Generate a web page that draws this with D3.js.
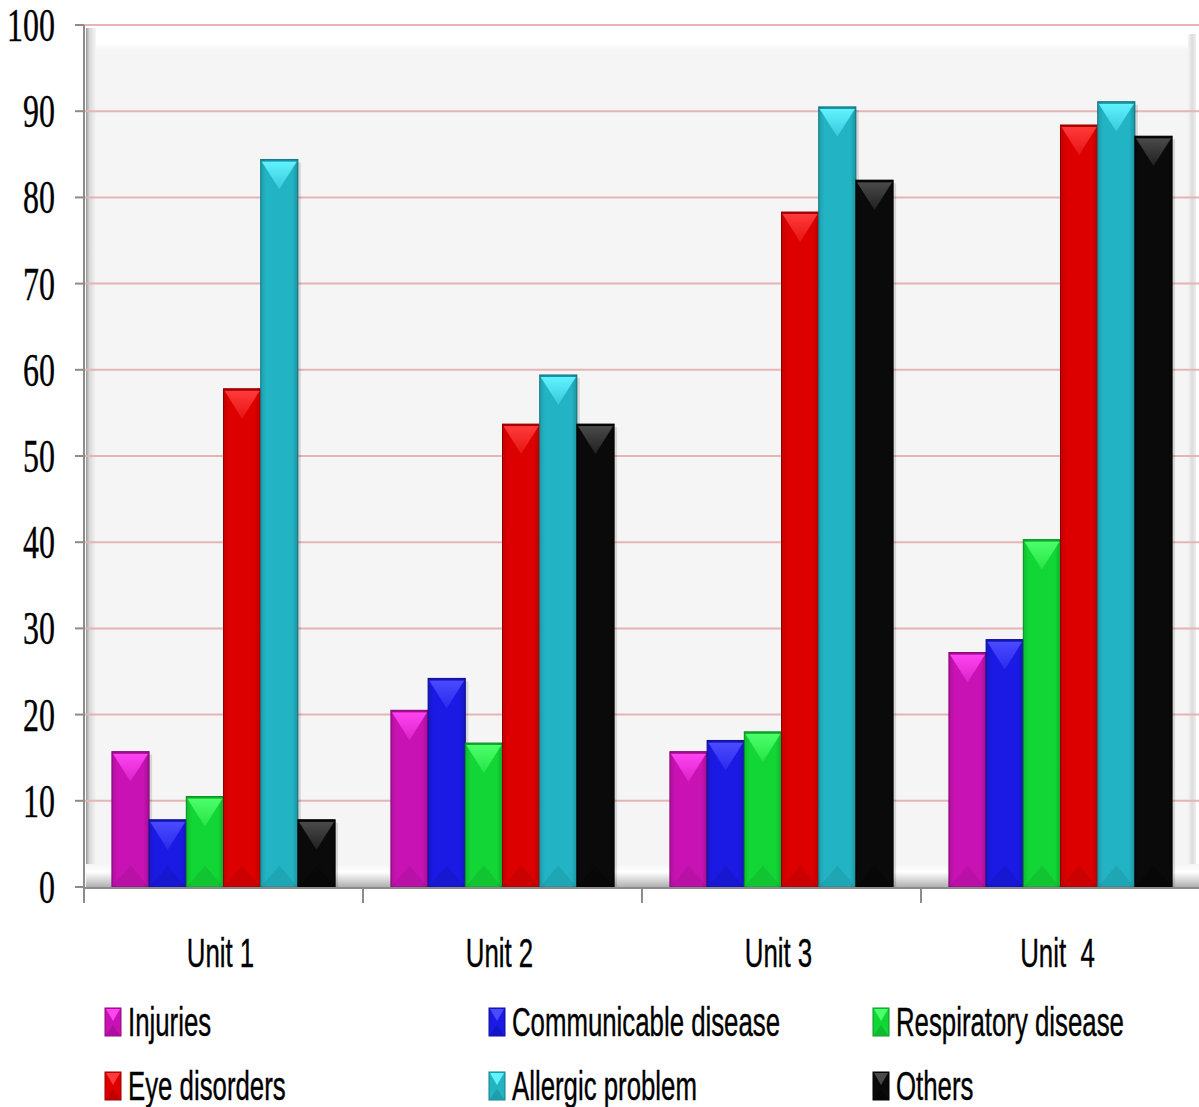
<!DOCTYPE html>
<html><head><meta charset="utf-8">
<script src="https://cdn.jsdelivr.net/npm/d3@7"></script>
<style>html,body{margin:0;padding:0;background:#fff;}svg{display:block;}</style>
</head><body>
<svg id="c" width="1199" height="1107"></svg>
<script>
const units = ["Unit 1", "Unit 2", "Unit 3", "Unit  4"];
const seriesNames = ["Injuries", "Communicable disease", "Respiratory disease", "Eye disorders", "Allergic problem", "Others"];
const injuries     = [15.7, 20.5, 15.7, 27.2];
const communicable = [7.8, 24.2, 17.0, 28.7];
const respiratory  = [10.5, 16.7, 18.0, 40.3];
const eyeDisorders = [57.8, 53.7, 78.3, 88.4];
const allergic     = [84.4, 59.4, 90.5, 91.1];
const others       = [7.8, 53.7, 82.0, 87.1];
const yTicks = [0, 10, 20, 30, 40, 50, 60, 70, 80, 90, 100];
const seriesValues = [injuries, communicable, respiratory, eyeDisorders, allergic, others];
const baseColors = ["#c812b4", "#1a1ae4", "#12d636", "#dc0000", "#22b4c4", "#0a0a0a"];
const lightColors = ["#ff44f2", "#4a4aff", "#4cff6a", "#ff3a3a", "#60f2ff", "#4a4a4a"];
const darkColors = ["#8a0a7c", "#10109a", "#0c9424", "#960000", "#177c88", "#000000"];

const svg = d3.select("#c");
const defs = svg.append("defs");

const plot = {left: 84, right: 1200, top: 25, bottom: 887};
const y = d3.scaleLinear().domain([0, 100]).range([plot.bottom, plot.top]);
const x0 = d3.scaleBand().domain(units).range([plot.left, plot.right]).paddingInner(0).paddingOuter(0);
const x1 = d3.scaleBand().domain(seriesNames).range([0, x0.bandwidth()]).paddingInner(0).paddingOuter(0.75);

function lg(id, x1_, y1_, x2_, y2_, stops) {
  const g = defs.append("linearGradient").attr("id", id)
    .attr("x1", x1_).attr("y1", y1_).attr("x2", x2_).attr("y2", y2_);
  stops.forEach(s => g.append("stop").attr("offset", s[0]).attr("stop-color", s[1]).attr("stop-opacity", s[2] == null ? 1 : s[2]));
}
lg("topEdge", 0, 0, 0, 1, [[0, "#ffffff"], [0.7, "#ffffff"], [1, "#f5f5f5"]]);
lg("leftEdge", 0, 0, 1, 0, [[0, "#9a9a9a"], [0.35, "#d8d8d8"], [1, "#f5f5f5"]]);
lg("rightEdge", 0, 0, 1, 0, [[0, "#f5f5f5"], [0.5, "#dcdcdc"], [1, "#eeeeee"]]);
lg("floor", 0, 0, 0, 1, [[0, "#f5f5f5"], [0.35, "#ffffff"], [0.7, "#d6d6d6"], [1, "#b0b0b0"]]);
baseColors.forEach((c, j) => {
  lg("tri" + j, 0, 0, 0, 1, [[0, lightColors[j], 1], [1, lightColors[j], 0.35]]);
  lg("side" + j, 0, 0, 1, 0, [[0, "#000", 0.12], [0.15, "#000", 0], [0.85, "#000", 0], [1, "#000", 0.18]]);
});

// wall
svg.append("rect").attr("x", 86).attr("y", 28).attr("width", 1109).attr("height", 859).attr("fill", "#f5f5f5");
svg.append("rect").attr("x", 86).attr("y", 28).attr("width", 1109).attr("height", 22).attr("fill", "url(#topEdge)");
svg.append("rect").attr("x", 86).attr("y", 28).attr("width", 10).attr("height", 859).attr("fill", "url(#leftEdge)");
svg.append("rect").attr("x", 1188).attr("y", 34).attr("width", 8).attr("height", 853).attr("fill", "url(#rightEdge)");
svg.append("rect").attr("x", 86).attr("y", 864).attr("width", 1113).attr("height", 23).attr("fill", "url(#floor)");

// gridlines
svg.append("g").selectAll("line").data(yTicks.filter(d => d > 0)).join("line")
  .attr("x1", plot.left).attr("x2", 1199)
  .attr("y1", d => y(d)).attr("y2", d => y(d))
  .attr("stroke", "#e6b4b4").attr("stroke-width", 2);

// bars
const data = [];
units.forEach((u, i) => seriesNames.forEach((s, j) => data.push({u, s, j, v: seriesValues[j][i]})));
const bw = x1.bandwidth();
const bars = svg.append("g").selectAll("g").data(data).join("g")
  .attr("transform", d => `translate(${x0(d.u) + x1(d.s)},0)`);
bars.append("rect").attr("x", 3).attr("y", d => y(d.v) + 3).attr("width", bw).attr("height", d => plot.bottom - y(d.v) - 3)
  .attr("fill", "#000").attr("opacity", 0.12);
bars.append("rect").attr("x", 0).attr("y", d => y(d.v)).attr("width", bw).attr("height", d => plot.bottom - y(d.v))
  .attr("fill", d => baseColors[d.j]).attr("stroke", d => darkColors[d.j]).attr("stroke-width", 1);
bars.append("rect").attr("x", 0).attr("y", d => y(d.v)).attr("width", bw).attr("height", d => plot.bottom - y(d.v))
  .attr("fill", d => `url(#side${d.j})`);
bars.append("path").attr("d", d => {
  const t = y(d.v) + 2, h = Math.min(bw * 0.75, (plot.bottom - y(d.v)) / 2);
  return `M1,${t} L${bw - 1},${t} L${bw / 2},${t + h} Z`;
}).attr("fill", d => `url(#tri${d.j})`);
bars.append("path").attr("d", d => {
  const b = plot.bottom - 1, h = Math.min(bw * 0.55, (plot.bottom - y(d.v)) / 2);
  return `M1,${b} L${bw - 1},${b} L${bw / 2},${b - h} Z`;
}).attr("fill", d => darkColors[d.j]).attr("opacity", 0.25);
bars.append("rect").attr("x", 0).attr("y", d => y(d.v)).attr("width", bw).attr("height", 2)
  .attr("fill", d => darkColors[d.j]).attr("opacity", 0.6);

// axes lines
svg.append("line").attr("x1", plot.left).attr("x2", plot.left).attr("y1", plot.top).attr("y2", 903)
  .attr("stroke", "#8c8c8c").attr("stroke-width", 2);
svg.append("line").attr("x1", plot.left).attr("x2", 1199).attr("y1", plot.bottom + 1).attr("y2", plot.bottom + 1)
  .attr("stroke", "#8c8c8c").attr("stroke-width", 2);
svg.append("g").selectAll("line").data(yTicks).join("line")
  .attr("x1", 75).attr("x2", plot.left).attr("y1", d => y(d)).attr("y2", d => y(d))
  .attr("stroke", "#8c8c8c").attr("stroke-width", 2);
svg.append("g").selectAll("line").data(units).join("line")
  .attr("x1", d => x0(d)).attr("x2", d => x0(d)).attr("y1", plot.bottom).attr("y2", 903)
  .attr("stroke", "#8c8c8c").attr("stroke-width", 2);

function txt(x, yy, s, size, sx, anchor, family) {
  svg.append("g").attr("transform", `translate(${x},${yy}) scale(${sx},1)`)
    .append("text").attr("x", 0).attr("y", 0).attr("text-anchor", anchor)
    .attr("font-family", family).attr("font-size", size).attr("fill", "#000")
    .attr("stroke", "#000").attr("stroke-width", 0.4)
    .style("white-space", "pre").text(s);
}
yTicks.forEach(t => txt(55, y(t) + 16, String(t), 47, 0.68, "end", "'Liberation Serif', serif"));
units.forEach(u => txt(x0(u) + x0.bandwidth() / 2 - 3, 967, u, 41, 0.63, "middle", "'Liberation Sans', sans-serif"));

const legCols = [105, 489, 873];
const legRows = [1008, 1072];
seriesNames.forEach((s, j) => {
  const cx = legCols[j % 3], ry = legRows[Math.floor(j / 3)];
  const g = svg.append("g").attr("transform", `translate(${cx},${ry})`);
  g.append("rect").attr("width", 16).attr("height", 28).attr("fill", baseColors[j]).attr("stroke", darkColors[j]);
  g.append("path").attr("d", "M1,1 L15,1 L8,13 Z").attr("fill", lightColors[j]);
  g.append("path").attr("d", "M1,27 L15,27 L8,17 Z").attr("fill", darkColors[j]).attr("opacity", 0.4);
  txt(cx + 23, ry + 28, s, 40, 0.645, "start", "'Liberation Sans', sans-serif");
});
</script>
</body></html>
